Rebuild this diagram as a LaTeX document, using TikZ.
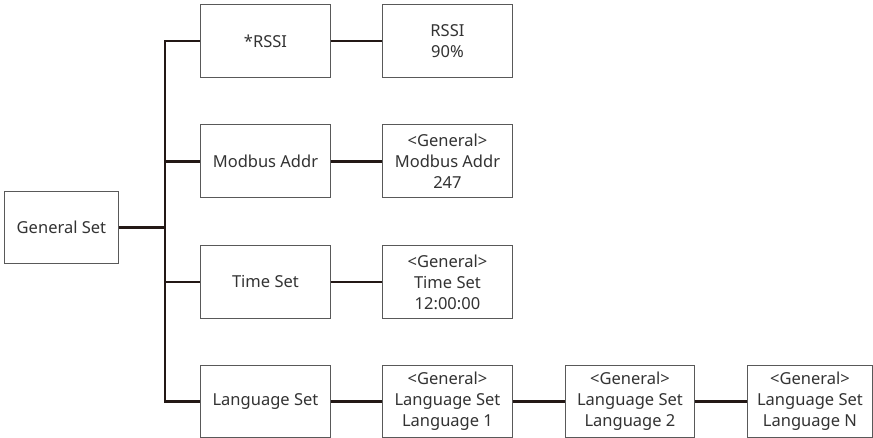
\documentclass[tikz,border=0pt]{standalone}
\usepackage{fontspec}
\setmainfont{Noto Sans}
\definecolor{linkcol}{HTML}{231815}
\begin{document}
\begin{tikzpicture}[x=1pt,y=-1pt,
  box/.style={draw=black!65,line width=0.9pt,fill=white,minimum width=129pt,minimum height=73pt,inner sep=0pt,align=center,font=\fontsize{16.5}{21}\selectfont,text=black!80,anchor=north west},
  link/.style={line width=2.4pt,draw=linkcol}]
\useasboundingbox (0,0) rectangle (873,438);
\node[box,minimum width=114pt,minimum height=72pt] (gs) at (4,191) {General Set};
\node[box,minimum width=130pt] (r1a) at (200,4) {*RSSI};
\node[box,minimum width=130pt] (r1b) at (382,4) {RSSI\\90\%};
\node[box,minimum width=130pt] (r2a) at (200,124.5) {Modbus Addr};
\node[box,minimum width=130pt] (r2b) at (382,124.5) {<General>\\Modbus Addr\\247};
\node[box,minimum width=130pt] (r3a) at (200,245) {Time Set};
\node[box,minimum width=130pt] (r3b) at (382,245) {<General>\\Time Set\\12:00:00};
\node[box,minimum width=130pt,minimum height=72pt] (r4a) at (200,365) {Language Set};
\node[box,minimum width=130pt,minimum height=72pt] (r4b) at (382,365) {<General>\\Language Set\\Language 1};
\node[box,minimum width=129pt,minimum height=72pt] (r4c) at (565,365) {<General>\\Language Set\\Language 2};
\node[box,minimum width=125pt,minimum height=72pt] (r4d) at (747,365) {<General>\\Language Set\\Language N};
\coordinate (tr) at (165,0);
\draw[link] (gs.east) -- (gs.east -| tr);
\draw[link,line cap=rect] (r1a.west -| tr) -- (r4a.west -| tr);
\foreach \n in {r1a,r2a,r3a,r4a} \draw[link] (\n.west -| tr) -- (\n.west);
\draw[link] (r1a) -- (r1b);
\draw[link] (r2a) -- (r2b);
\draw[link] (r3a) -- (r3b);
\draw[link] (r4a) -- (r4b);
\draw[link] (r4b) -- (r4c);
\draw[link] (r4c) -- (r4d);
\end{tikzpicture}
\end{document}
